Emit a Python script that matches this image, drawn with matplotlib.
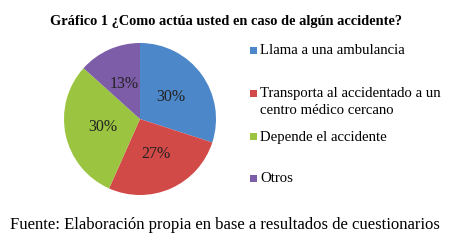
import matplotlib
matplotlib.use("Agg")
import matplotlib.pyplot as plt
from matplotlib.patches import Rectangle

plt.rcParams['font.family'] = ['Liberation Serif', 'DejaVu Serif']

# respuestas (n = 30)
categorias = ["Llama a una ambulancia",
              "Transporta al accidentado a un\ncentro médico cercano",
              "Depende el accidente",
              "Otros"]
respuestas = [9, 8, 9, 4]
colores = ['#4C87C9', '#D24A47', '#9BC440', '#7D5CA8']

titulo = "Gráfico 1 ¿Como actúa usted en caso de algún accidente?"
fuente = "Fuente: Elaboración propia en base a resultados de cuestionarios"

W, H = 462, 242
fig = plt.figure(figsize=(W / 100, H / 100), dpi=100)

# pie axes: centre ~ (140, 119) px, radius ~76 px
cx, cy, r = 140, 119, 76
ax = fig.add_axes([(cx - r) / W, (H - cy - r) / H, 2 * r / W, 2 * r / H])
wedges, texts, autotexts = ax.pie(respuestas, colors=colores, startangle=90,
                                  counterclock=False, autopct='%1.0f%%',
                                  pctdistance=0.5, radius=1,
                                  textprops={'fontsize': 11.5, 'color': '#222222'})
ax.set_xlim(-1, 1)
ax.set_ylim(-1, 1)
ax.set_aspect('equal')

fig.text(226 / W, 1 - 21 / H, titulo, ha='center', va='center',
         fontsize=10.4, fontweight='bold')

# legend drawn by hand (Excel-style spacing)
legend_y = [50, 93, 136, 178]
for lab, col, y in zip(categorias, colores, legend_y):
    fig.patches.append(Rectangle(((250) / W, (H - y - 3.5) / H), 7 / W, 7 / H,
                                 transform=fig.transFigure, facecolor=col,
                                 edgecolor='none'))
    fig.text(260 / W, 1 - (y - 5.5) / H, lab, ha='left', va='top',
             fontsize=10.6, linespacing=1.4)

fig.text(10 / W, 1 - 225 / H, fuente, ha='left', va='center', fontsize=12)

fig.savefig("out.png", dpi=100)
